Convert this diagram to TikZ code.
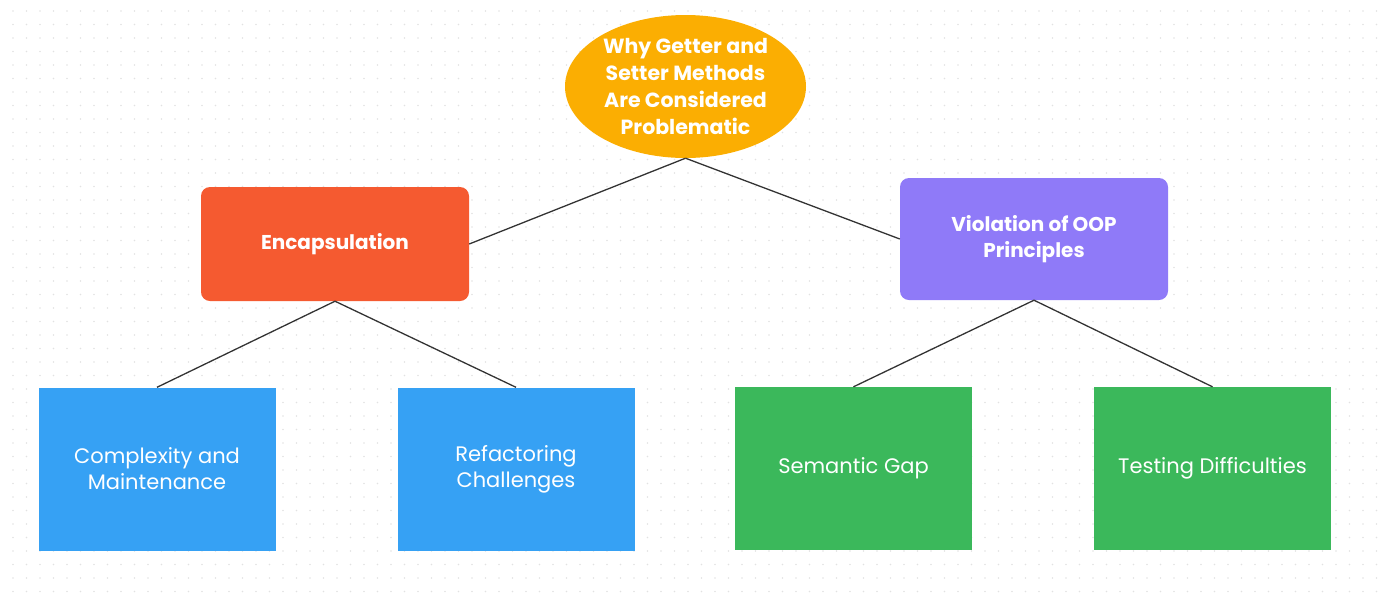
\documentclass[tikz,border=0pt]{standalone}
\usepackage{fontspec}
\setmainfont{Poppins}
\usetikzlibrary{shapes.geometric}
\definecolor{dotgray}{HTML}{E2E2E2}
\definecolor{rootorange}{HTML}{FBAE02}
\definecolor{encred}{HTML}{F55A30}
\definecolor{oopviolet}{HTML}{8F7AF8}
\definecolor{leafblue}{HTML}{36A1F4}
\definecolor{leafgreen}{HTML}{3BB85B}
\definecolor{edgegray}{HTML}{333333}
\tikzset{
  rootnode/.style={ellipse, fill=rootorange, text=white, minimum width=241, minimum height=143,
    inner sep=0pt, align=center, font=\fontsize{20.5}{26.7}\selectfont\bfseries},
  midnode/.style={rectangle, rounded corners=9, text=white, minimum width=268,
    inner sep=0pt, align=center, font=\fontsize{20}{26.7}\selectfont\bfseries},
  leafnode/.style={rectangle, text=white, minimum width=237, minimum height=163,
    inner sep=0pt, align=center, font=\fontsize{21}{26}\selectfont},
  link/.style={draw=edgegray, line width=1.3}
}
\begin{document}
\begin{tikzpicture}[x=1pt, y=-1pt]
  \useasboundingbox (0,0) rectangle (1387,598);
  % dotted canvas
  \foreach \j in {0,...,43}
    \foreach \i in {0,...,102}
      \fill[dotgray] (13+\i*13.5, 11+\j*13.5) circle (0.9);

  % root
  \node[rootnode] (why) at (685.5,86.5) {Why Getter and\\Setter Methods\\Are Considered\\Problematic};

  % second level
  \node[midnode, fill=encred, minimum height=114] (enc) at (335,244) {Encapsulation};
  \node[midnode, fill=oopviolet, minimum height=122] (oop) at (1034,239) {Violation of OOP\\Principles};

  % leaves
  \node[leafnode, fill=leafblue] (cplx) at (157,469) {Complexity and\\Maintenance};
  \node[leafnode, fill=leafblue] (refac) at (516,469) {Refactoring\\Challenges};
  \node[leafnode, fill=leafgreen] (sem) at (853.5,468.5) {Semantic Gap};
  \node[leafnode, fill=leafgreen] (test) at (1212.5,468.5) {Testing Difficulties};

  % connectors
  \draw[link] (why.south) -- (enc.east);
  \draw[link] (why.south) -- (oop.west);
  \draw[link] (enc.south) -- (cplx.north);
  \draw[link] (enc.south) -- (refac.north);
  \draw[link] (oop.south) -- (sem.north);
  \draw[link] (oop.south) -- (test.north);
\end{tikzpicture}
\end{document}
